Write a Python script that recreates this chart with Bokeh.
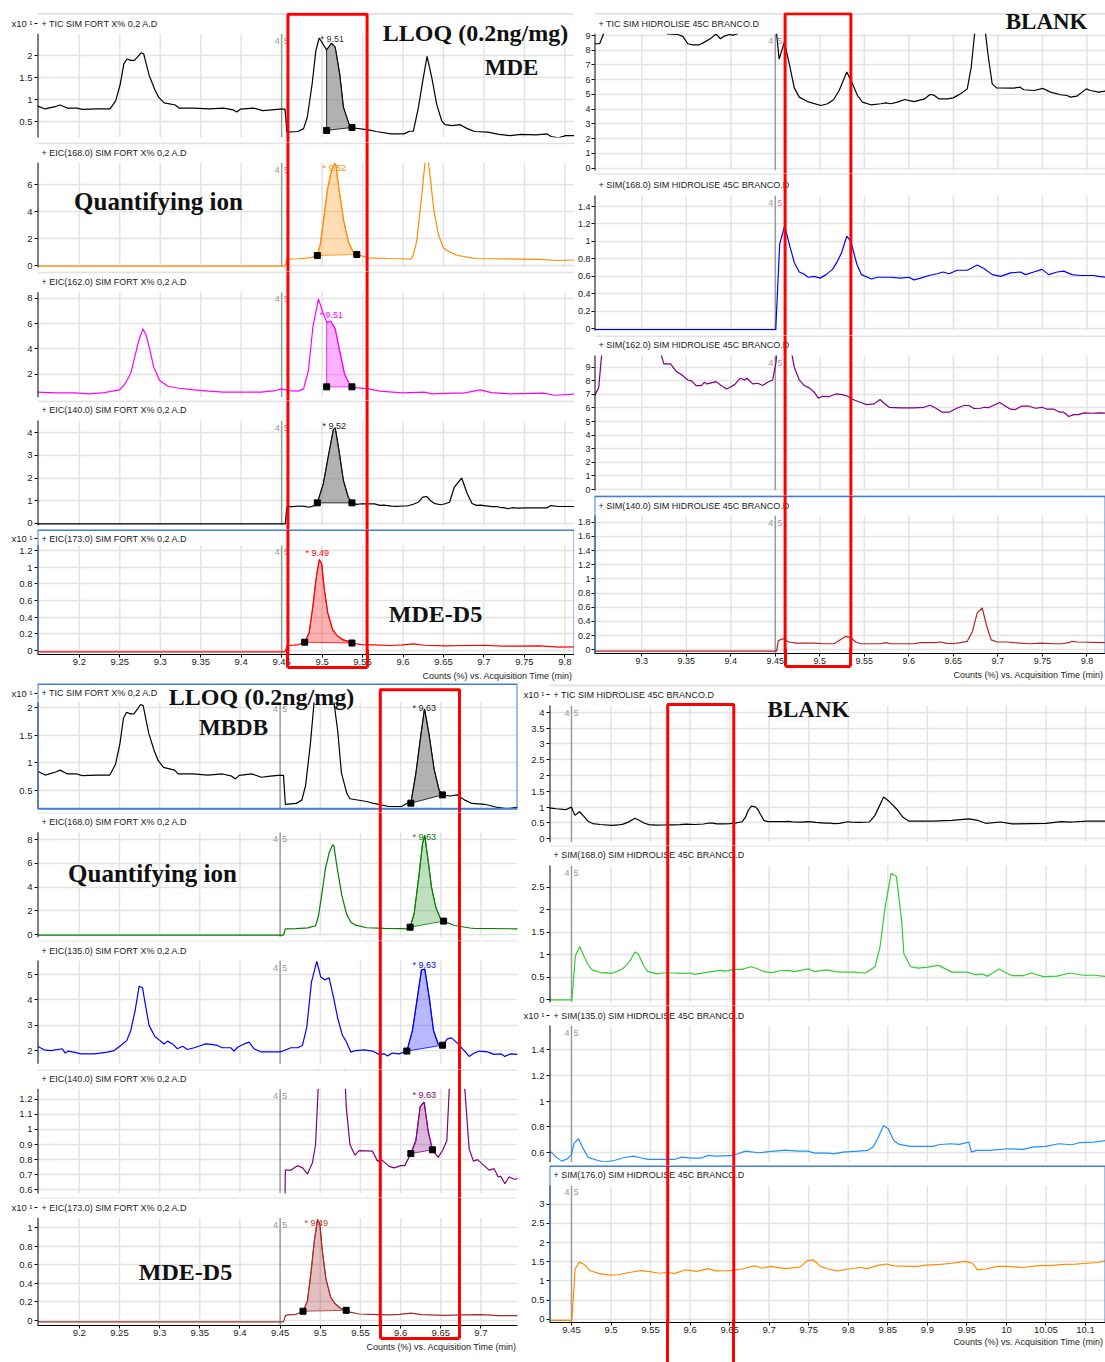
from bokeh.plotting import figure
from bokeh.models import (Range1d, FixedTicker, NumeralTickFormatter, Span, Label,
                          BoxAnnotation, LinearAxis)
from bokeh.layouts import column, row
from bokeh.embed import file_html
from bokeh.resources import INLINE

# ---------------------------------------------------------------------------
# Chromatogram traces: (acquisition time in min, counts on the panel's scale)
# ---------------------------------------------------------------------------
fort_tic = [
    (9.148, 0.85), (9.1577, 0.78), (9.1715, 0.84), (9.176, 0.87), (9.1853, 0.80), (9.197, 0.80),
    (9.2037, 0.77), (9.222, 0.78), (9.238, 0.78), (9.245, 0.97), (9.2506, 1.35), (9.255, 1.81),
    (9.2588, 1.92), (9.2634, 1.89), (9.268, 1.89), (9.2726, 1.98), (9.2763, 2.06), (9.2795, 2.04),
    (9.2827, 1.81), (9.2864, 1.54), (9.2933, 1.22), (9.2979, 1.05), (9.3048, 0.92), (9.3186, 0.87),
    (9.3232, 0.80), (9.3416, 0.80), (9.36, 0.78), (9.3783, 0.80), (9.3898, 0.76), (9.3944, 0.71),
    (9.399, 0.775), (9.4151, 0.80), (9.4266, 0.74), (9.438, 0.76), (9.4473, 0.775), (9.4542, 0.775),
    (9.4565, 0.25), (9.4702, 0.265), (9.4771, 0.33), (9.4817, 0.59), (9.4877, 1.35), (9.4923, 2.11),
    (9.4964, 2.40), (9.5056, 2.13), (9.5116, 2.28), (9.5162, 2.19), (9.5217, 1.58), (9.5263, 0.82),
    (9.5332, 0.44), (9.5369, 0.35), (9.5576, 0.30), (9.5668, 0.265), (9.5851, 0.21), (9.6012, 0.21),
    (9.6081, 0.27), (9.6127, 0.27), (9.6189, 0.80), (9.6243, 1.41), (9.6297, 1.98), (9.6355, 1.50),
    (9.6417, 0.88), (9.648, 0.50), (9.652, 0.42), (9.661, 0.40), (9.6707, 0.42), (9.6794, 0.33),
    (9.6886, 0.265), (9.7047, 0.25), (9.7184, 0.20), (9.7322, 0.17), (9.746, 0.20), (9.7644, 0.19),
    (9.7782, 0.21), (9.7828, 0.15), (9.792, 0.12), (9.8011, 0.17), (9.818, 0.17)]

fort_eic168 = [
    (9.148, -0.05), (9.4542, -0.05), (9.4565, 0.48), (9.47, 0.50), (9.4845, 0.56), (9.4941, 0.74),
    (9.4975, 1.50), (9.5008, 2.90), (9.5065, 5.60), (9.511, 6.90), (9.5155, 7.60), (9.5171, 7.45),
    (9.521, 5.60), (9.5268, 3.30), (9.5328, 1.70), (9.5383, 1.02), (9.5429, 0.82), (9.5576, 0.57),
    (9.58, 0.52), (9.6, 0.50), (9.6093, 0.48), (9.6118, 0.62), (9.6168, 1.75), (9.623, 5.10),
    (9.6272, 7.66), (9.63, 8.37), (9.6342, 6.25), (9.6384, 4.00), (9.6438, 2.30), (9.6495, 1.36),
    (9.6535, 1.13), (9.6666, 0.76), (9.6863, 0.55), (9.6915, 0.52), (9.7434, 0.48), (9.77, 0.45),
    (9.79, 0.37), (9.818, 0.42)]

fort_eic162 = [
    (9.148, 0.58), (9.1715, 0.53), (9.1945, 0.53), (9.2129, 0.45), (9.2313, 0.55), (9.2404, 0.66),
    (9.2496, 0.76), (9.2565, 1.24), (9.2634, 2.03), (9.2689, 3.47), (9.2735, 4.66), (9.2786, 5.58),
    (9.2827, 5.05), (9.2864, 4.13), (9.2919, 2.55), (9.2993, 1.50), (9.3094, 1.05), (9.3232, 0.89),
    (9.3416, 0.76), (9.3599, 0.66), (9.3783, 0.58), (9.4013, 0.58), (9.4243, 0.58), (9.4427, 0.71),
    (9.4496, 0.84), (9.4588, 0.71), (9.4703, 0.66), (9.4771, 0.84), (9.4831, 2.29), (9.4886, 5.71),
    (9.4955, 7.95), (9.5001, 7.03), (9.5056, 6.11), (9.5107, 6.18), (9.5162, 5.58), (9.5208, 4.13),
    (9.5277, 2.03), (9.5346, 1.10), (9.5369, 1.00), (9.5438, 0.92), (9.5576, 0.84), (9.5714, 0.66),
    (9.5989, 0.53), (9.6265, 0.58), (9.6357, 0.45), (9.6633, 0.50), (9.6748, 0.50), (9.6954, 0.76),
    (9.7092, 0.55), (9.7322, 0.45), (9.7736, 0.50), (9.7874, 0.34), (9.818, 0.45)]

fort_eic140 = [
    (9.148, -0.03), (9.4545, -0.03), (9.4565, 0.73), (9.4633, 0.73), (9.4716, 0.76), (9.478, 0.745),
    (9.484, 0.705), (9.4903, 0.78), (9.4941, 0.90), (9.5015, 1.74), (9.5079, 3.00), (9.5139, 4.13),
    (9.5162, 4.22), (9.5208, 3.22), (9.5263, 1.89), (9.5323, 1.15), (9.5369, 0.90), (9.543, 0.83),
    (9.5483, 0.86), (9.565, 0.856), (9.5712, 0.79), (9.5761, 0.80), (9.5857, 0.755), (9.592, 0.745),
    (9.6002, 0.76), (9.6052, 0.76), (9.6127, 0.84), (9.6189, 0.925), (9.6243, 1.15), (9.6293, 1.18),
    (9.6342, 0.99), (9.6396, 0.865), (9.6467, 0.815), (9.6521, 0.86), (9.6575, 0.925), (9.6633, 1.59),
    (9.6725, 2.00), (9.6794, 1.30), (9.6853, 0.87), (9.6907, 0.79), (9.6957, 0.80), (9.7019, 0.77),
    (9.7102, 0.73), (9.7164, 0.74), (9.7214, 0.685), (9.7247, 0.69), (9.7297, 0.64), (9.735, 0.685),
    (9.7413, 0.67), (9.755, 0.68), (9.7782, 0.68), (9.7828, 0.78), (9.792, 0.74), (9.818, 0.74)]

fort_eic173 = [
    (9.148, -0.015), (9.4542, -0.015), (9.4565, 0.05), (9.4588, 0.06), (9.47, 0.067), (9.4785, 0.10),
    (9.484, 0.21), (9.4886, 0.53), (9.4923, 0.84), (9.4965, 1.09), (9.4995, 1.04), (9.5024, 0.76),
    (9.507, 0.45), (9.513, 0.25), (9.5185, 0.18), (9.5254, 0.13), (9.5322, 0.11), (9.5369, 0.09),
    (9.5484, 0.07), (9.5622, 0.067), (9.5852, 0.06), (9.599, 0.067), (9.6128, 0.08), (9.6266, 0.063),
    (9.654, 0.055), (9.677, 0.06), (9.7, 0.063), (9.723, 0.052), (9.769, 0.055), (9.792, 0.04),
    (9.818, 0.044)]

fort_eic135 = [
    (9.148, 2.18), (9.1562, 2.04), (9.1645, 2.01), (9.179, 2.08), (9.1823, 1.91), (9.1865, 1.99),
    (9.1957, 1.93), (9.2019, 1.88), (9.2185, 1.88), (9.2351, 1.95), (9.2434, 2.01), (9.2517, 2.21),
    (9.2591, 2.40), (9.2641, 2.80), (9.2695, 3.58), (9.2745, 4.54), (9.2787, 4.48), (9.2828, 3.72),
    (9.2869, 3.00), (9.294, 2.56), (9.2994, 2.43), (9.3056, 2.27), (9.3098, 2.38), (9.316, 2.27),
    (9.3222, 2.08), (9.3284, 2.18), (9.3347, 2.05), (9.343, 2.12), (9.3512, 2.21), (9.3575, 2.27),
    (9.3637, 2.25), (9.372, 2.21), (9.3782, 2.12), (9.3886, 2.12), (9.3927, 1.99), (9.3969, 2.14),
    (9.4052, 2.27), (9.4114, 2.34), (9.4176, 2.08), (9.4259, 1.96), (9.45, 1.96), (9.455, 2.01),
    (9.4633, 2.12), (9.4716, 2.12), (9.4778, 2.21), (9.4832, 2.93), (9.489, 4.70), (9.4956, 5.52),
    (9.5006, 4.90), (9.5056, 4.79), (9.511, 4.87), (9.5164, 4.11), (9.5214, 3.32), (9.5276, 2.60),
    (9.5317, 2.40), (9.538, 1.95), (9.5442, 2.01), (9.5546, 2.04), (9.5649, 1.99), (9.5732, 1.86),
    (9.5795, 1.88), (9.5836, 1.80), (9.5898, 1.91), (9.5981, 1.88), (9.6077, 1.99), (9.6147, 2.80),
    (9.6209, 4.11), (9.6259, 5.18), (9.6301, 5.21), (9.6355, 4.11), (9.6409, 2.80), (9.6467, 2.27),
    (9.6521, 2.22), (9.6583, 2.47), (9.6633, 2.51), (9.6707, 2.30), (9.679, 2.01), (9.6853, 1.78),
    (9.6915, 1.91), (9.6977, 1.99), (9.7081, 1.96), (9.7164, 1.86), (9.7247, 1.88), (9.7297, 1.78),
    (9.7371, 1.88), (9.746, 1.86)]

# blank (hydrolysis 45C) run, TIC in counts x10^0
blank_tic = [
    (9.2469, 8.44), (9.2527, 8.44), (9.2583, 9.3), (9.27, 9.8), (9.30, 9.8), (9.3215, 9.5),
    (9.3293, 9.1), (9.3405, 9.07), (9.3461, 8.94), (9.3517, 8.44), (9.3573, 8.37), (9.3648, 8.37),
    (9.3704, 8.55), (9.3779, 8.82), (9.3835, 9.10), (9.3883, 8.78), (9.3928, 8.96), (9.3984, 9.07),
    (9.4022, 9.03), (9.407, 9.10), (9.415, 9.6), (9.4244, 9.7), (9.4311, 9.5), (9.4424, 9.2),
    (9.45, 10.0), (9.4543, 7.4), (9.4601, 8.55), (9.4657, 7.08), (9.4713, 5.45), (9.4769, 4.82),
    (9.4862, 4.52), (9.5012, 4.25), (9.5087, 4.37), (9.5154, 4.64), (9.5217, 5.27), (9.5303, 6.52),
    (9.5367, 5.72), (9.5423, 4.93), (9.5479, 4.48), (9.5572, 4.30), (9.5685, 4.37), (9.5741, 4.43),
    (9.5797, 4.37), (9.5871, 4.48), (9.5954, 4.66), (9.6058, 4.52), (9.617, 4.68), (9.6238, 5.00),
    (9.6283, 4.95), (9.6339, 4.70), (9.6432, 4.70), (9.6499, 4.77), (9.6581, 5.05), (9.6656, 5.38),
    (9.6701, 6.86), (9.6738, 9.10), (9.6775, 10.3), (9.6825, 10.1), (9.6862, 9.1), (9.6888, 7.76),
    (9.6936, 5.72), (9.6985, 5.45), (9.7179, 5.43), (9.7247, 5.50), (9.7291, 5.32), (9.7404, 5.27),
    (9.7508, 5.41), (9.759, 5.16), (9.7703, 4.98), (9.7777, 4.93), (9.7815, 4.82), (9.7889, 4.89),
    (9.7994, 5.38), (9.8039, 5.27), (9.8132, 5.16), (9.8266, 5.3), (9.8338, 7.4), (9.8447, 13.2),
    (9.8527, 11.6), (9.8608, 9.5), (9.8693, 6.8), (9.8765, 5.6), (9.9073, 5.6), (9.931, 5.8),
    (9.9524, 6.3), (9.964, 5.8), (9.9737, 4.9), (9.9927, 5.3), (10.007, 4.7), (10.05, 4.9),
    (10.069, 5.4), (10.083, 5.3), (10.102, 5.6), (10.126, 5.6)]

blank_sim168 = [
    (9.2469, -0.01), (9.4505, -0.01), (9.4549, 0.97), (9.4605, 1.18), (9.4657, 0.97), (9.4713, 0.76),
    (9.4769, 0.65), (9.4818, 0.63), (9.487, 0.59), (9.4937, 0.60), (9.5004, 0.58), (9.507, 0.62),
    (9.5143, 0.68), (9.5191, 0.76), (9.5244, 0.87), (9.5303, 1.06), (9.5348, 1.00), (9.5416, 0.74),
    (9.5468, 0.62), (9.558, 0.57), (9.5647, 0.59), (9.5797, 0.59), (9.5909, 0.58), (9.6002, 0.59),
    (9.6058, 0.56), (9.6133, 0.58), (9.6226, 0.61), (9.6319, 0.63), (9.6387, 0.65), (9.6451, 0.63),
    (9.6544, 0.67), (9.6656, 0.67), (9.6768, 0.73), (9.6843, 0.69), (9.6937, 0.62), (9.703, 0.60),
    (9.7142, 0.64), (9.7254, 0.65), (9.731, 0.62), (9.7403, 0.65), (9.7497, 0.68), (9.7571, 0.62),
    (9.7665, 0.65), (9.774, 0.66), (9.7833, 0.62), (9.7927, 0.61), (9.8076, 0.61), (9.8132, 0.60),
    (9.8219, 0.59), (9.8338, 0.73), (9.84, 1.16), (9.8466, 2.05), (9.8542, 2.81), (9.8608, 2.74),
    (9.8675, 1.76), (9.8703, 1.02), (9.8788, 0.73), (9.8883, 0.70), (9.9002, 0.72), (9.9144, 0.76),
    (9.931, 0.61), (9.95, 0.61), (9.9605, 0.55), (9.9689, 0.57), (9.9761, 0.52), (9.9903, 0.68),
    (10.007, 0.53), (10.0211, 0.53), (10.0306, 0.59), (10.0472, 0.51), (10.0638, 0.52), (10.0804, 0.59),
    (10.097, 0.54), (10.1112, 0.54), (10.126, 0.51)]

# SIM 162 of the blank, counts x10^-1
blank_sim162 = [
    (9.2469, 6.91), (9.2516, 7.48), (9.2553, 10.2), (9.28, 10.5), (9.31, 10.3), (9.3219, 9.9),
    (9.3248, 9.24), (9.3323, 9.24), (9.3386, 8.70), (9.3461, 8.38), (9.3517, 8.06), (9.3562, 7.97),
    (9.361, 7.65), (9.3669, 7.65), (9.3704, 7.89), (9.3734, 7.77), (9.3835, 7.94), (9.3891, 7.65),
    (9.3954, 7.40), (9.404, 7.70), (9.4108, 8.19), (9.4152, 8.06), (9.4182, 8.19), (9.4246, 7.77),
    (9.4302, 7.82), (9.4358, 7.65), (9.4414, 7.89), (9.447, 8.06), (9.4508, 9.36), (9.452, 10.5),
    (9.4668, 10.5), (9.4687, 9.9), (9.4713, 9.0), (9.4769, 8.06), (9.4825, 7.65), (9.4881, 7.48),
    (9.4937, 7.16), (9.4982, 6.72), (9.5031, 6.86), (9.5105, 6.84), (9.518, 7.03), (9.5254, 6.98),
    (9.5311, 6.86), (9.5386, 6.59), (9.546, 6.40), (9.5528, 6.25), (9.561, 6.30), (9.5677, 6.62),
    (9.5722, 6.35), (9.5778, 6.05), (9.5909, 6.00), (9.6058, 6.00), (9.617, 6.05), (9.6238, 6.20),
    (9.6301, 6.00), (9.6376, 5.69), (9.645, 5.69), (9.6544, 6.00), (9.6619, 6.18), (9.6675, 6.18),
    (9.6731, 5.96), (9.6806, 5.98), (9.6851, 6.05), (9.6899, 6.03), (9.7022, 6.40), (9.7067, 6.20),
    (9.7142, 5.91), (9.7198, 5.88), (9.7262, 6.13), (9.7348, 6.13), (9.7422, 5.98), (9.7497, 6.05),
    (9.7553, 5.91), (9.7628, 5.91), (9.7695, 5.69), (9.774, 5.69), (9.7796, 5.37), (9.7852, 5.51),
    (9.7908, 5.51), (9.7964, 5.64), (9.8057, 5.61), (9.8132, 5.64), (9.821, 5.62)]

blank_sim140 = [
    (9.2469, -0.02), (9.4515, -0.02), (9.4534, 0.13), (9.4582, 0.155), (9.4657, 0.11), (9.4732, 0.094),
    (9.4937, 0.094), (9.5049, 0.085), (9.516, 0.085), (9.5217, 0.13), (9.5292, 0.19), (9.5348, 0.17),
    (9.5404, 0.11), (9.546, 0.085), (9.5685, 0.085), (9.5741, 0.10), (9.5797, 0.085), (9.6058, 0.085),
    (9.6133, 0.10), (9.6283, 0.10), (9.6357, 0.11), (9.6413, 0.095), (9.6488, 0.085), (9.6581, 0.10),
    (9.6656, 0.12), (9.6712, 0.25), (9.6768, 0.52), (9.6824, 0.59), (9.6873, 0.34), (9.6925, 0.14),
    (9.6992, 0.11), (9.7104, 0.11), (9.7179, 0.10), (9.7366, 0.085), (9.7478, 0.095), (9.7628, 0.085),
    (9.7721, 0.085), (9.7796, 0.10), (9.7833, 0.12), (9.789, 0.11), (9.821, 0.10)]

blank_sim135 = [
    (9.4222, 0.60), (9.4244, 0.603), (9.4306, 0.564), (9.4377, 0.533), (9.4448, 0.551), (9.45, 0.585),
    (9.4533, 0.673), (9.459, 0.707), (9.4637, 0.642), (9.4709, 0.564), (9.4804, 0.544), (9.4908, 0.526),
    (9.5041, 0.538), (9.516, 0.559), (9.5278, 0.572), (9.5373, 0.559), (9.5468, 0.546), (9.5658, 0.546),
    (9.58, 0.546), (9.5895, 0.564), (9.6014, 0.556), (9.6133, 0.556), (9.6227, 0.577), (9.6322, 0.572),
    (9.6512, 0.575), (9.6606, 0.59), (9.6701, 0.611), (9.6867, 0.598), (9.7033, 0.608), (9.7199, 0.619),
    (9.7365, 0.611), (9.7484, 0.611), (9.7579, 0.595), (9.7745, 0.595), (9.7816, 0.59), (9.7935, 0.603),
    (9.8125, 0.611), (9.8243, 0.616), (9.8314, 0.642), (9.8371, 0.707), (9.8447, 0.81), (9.8504, 0.784),
    (9.8575, 0.694), (9.8646, 0.663), (9.8788, 0.647), (9.9073, 0.647), (9.9144, 0.66), (9.9286, 0.668),
    (9.9405, 0.663), (9.9524, 0.681), (9.9557, 0.603), (9.9619, 0.616), (9.9785, 0.616), (10.0022, 0.629),
    (10.0212, 0.624), (10.033, 0.642), (10.0496, 0.647), (10.0662, 0.668), (10.0828, 0.66), (10.0923, 0.676),
    (10.1112, 0.681), (10.126, 0.694)]

blank_sim176 = [
    (9.4222, -0.03), (9.4505, -0.03), (9.4547, 1.31), (9.46, 1.49), (9.4652, 1.44), (9.4732, 1.27),
    (9.4851, 1.19), (9.4993, 1.15), (9.5088, 1.16), (9.523, 1.22), (9.5373, 1.27), (9.5491, 1.24),
    (9.561, 1.20), (9.5729, 1.22), (9.58, 1.19), (9.5942, 1.29), (9.6085, 1.25), (9.6227, 1.32),
    (9.6322, 1.26), (9.6512, 1.27), (9.6654, 1.31), (9.682, 1.39), (9.6915, 1.33), (9.701, 1.38),
    (9.72, 1.32), (9.7389, 1.36), (9.7484, 1.53), (9.7555, 1.55), (9.765, 1.38), (9.7745, 1.31),
    (9.7863, 1.26), (9.8006, 1.31), (9.8148, 1.35), (9.8243, 1.32), (9.8385, 1.41), (9.848, 1.44),
    (9.8575, 1.39), (9.8788, 1.38), (9.8883, 1.38), (9.8978, 1.41), (9.9168, 1.43), (9.931, 1.46),
    (9.9405, 1.49), (9.9476, 1.51), (9.9571, 1.46), (9.9633, 1.29), (9.9737, 1.31), (9.9879, 1.38),
    (10.0022, 1.38), (10.0212, 1.35), (10.0401, 1.40), (10.0543, 1.40), (10.0733, 1.43), (10.0875, 1.44),
    (10.1017, 1.46), (10.116, 1.48), (10.126, 1.53)]

# the blank TIC shown again on the x10^1 scale
blank_tic_x10 = [(t, c / 10.0) for t, c in blank_tic]

# x-axis tick labels (min)
xticks_tl = [9.2, 9.25, 9.3, 9.35, 9.4, 9.45, 9.5, 9.55, 9.6, 9.65, 9.7, 9.75, 9.8]
xticks_tr = [9.3, 9.35, 9.4, 9.45, 9.5, 9.55, 9.6, 9.65, 9.7, 9.75, 9.8]
xticks_bl = [9.2, 9.25, 9.3, 9.35, 9.4, 9.45, 9.5, 9.55, 9.6, 9.65, 9.7]
xticks_br = [9.45, 9.5, 9.55, 9.6, 9.65, 9.7, 9.75, 9.8, 9.85, 9.9, 9.95, 10, 10.05, 10.1]

SEGMENT_SWITCH = 9.45          # time where acquisition segment 4 ends and 5 begins
SANS = "Liberation Sans"
SERIF = "Liberation Serif"
GRID = "#e3e3e3"
FRAME_BLUE = "#3f7fd8"
AXIS_NOTE = "Counts (%) vs. Acquisition Time (min)"
X10 = "x10 \u00b9"
FORT = "SIM FORT X% 0,2 A.D"
BRANCO = "SIM HIDROLISE 45C BRANCO.D"

# ---------------------------------------------------------------------------
# Page geometry of the four panel stacks (pixel positions on the page)
# ---------------------------------------------------------------------------
TL = dict(page_left=0, width=574, frame_left=37, border_right=0, x0=9.1483, kx=809.2,
          xticks=xticks_tl, tick_size="9.5px", rect=((9.4578, 9.5556), (13.7, 673.0)),
          note_x=497, note_first=False, red_in=18, red_out=0, red_line=True)
TR = dict(page_left=574, width=531, frame_left=19, border_right=0, x0=9.2469, kx=892.0,
          xticks=xticks_tr, tick_size="9px", rect=((9.461, 9.5349), (13.3, 671.7)),
          note_x=1028, note_first=False, red_in=18, red_out=0, red_line=True)
BL = dict(page_left=0, width=520, frame_left=37, border_right=3, x0=9.148, kx=803.4,
          xticks=xticks_bl, tick_size="9.5px", rect=((9.5747, 9.6733), (689.3, 1348.3)),
          note_x=441, note_first=False, red_in=18, red_out=0, red_line=True)
BR = dict(page_left=520, width=585, frame_left=29, border_right=0, x0=9.4222, kx=790.8,
          xticks=xticks_br, tick_size="9.5px", rect=((9.5717, 9.6552), (704.0, 1400.0)),
          note_x=1028, note_first=True, red_in=30, red_out=13, red_line=False)

GRAY_FILL = "#7d7d7d"


def steps(a, b, n):
    return [round(a + (b - a) * i / n, 3) for i in range(n + 1)]


tl_panels = [
    dict(title="+ TIC " + FORT, frame=(12, 142), border_top=12, plot=(33.3, 137.0), title_y=23.3,
         sep=13.3, ref=(2, 55.0, 0.5, 120.7), yticks=[0.5, 1, 1.5, 2], x10=True,
         trace=fort_tic, color="#000000",
         integ=dict(t=(9.5056, 9.5369), base=(0.29, 0.356), fill=GRAY_FILL, alpha=0.6,
                    text="* 9.51", at=(320, 38), tcolor="#333333"),
         notes=[("LLOQ (0.2ng/mg)", 475, 32, 24), ("MDE", 511, 67, 23)]),
    dict(title="+ EIC(168.0) " + FORT, frame=(142, 271), plot=(162.3, 266.7), title_y=152.3,
         sep=142.7, ref=(6, 184.3, 0, 265.0), yticks=[0, 2, 4, 6],
         trace=fort_eic168, color="#ff8c00",
         integ=dict(t=(9.4941, 9.5429), base=(0.74, 0.82), fill="#ff8c00", alpha=0.3,
                    text="* 9.52", at=(322, 167), tcolor="#ff8c00"),
         notes=[("Quantifying ion", 158, 201, 25)]),
    dict(title="+ EIC(162.0) " + FORT, frame=(271, 400), plot=(291.7, 396.7), title_y=281.0,
         sep=271.7, ref=(8, 297.7, 2, 373.7), yticks=[2, 4, 6, 8],
         trace=fort_eic162, color="#ff00ff",
         integ=dict(t=(9.5056, 9.5369), base=(1.0, 1.0), fill="#ff00ff", alpha=0.3,
                    text="* 9.51", at=(319, 314), tcolor="#ff00ff")),
    dict(title="+ EIC(140.0) " + FORT, frame=(400, 529), plot=(420.0, 525.0), title_y=409.3,
         sep=400.7, ref=(4, 432.3, 0, 522.7), yticks=[0, 1, 2, 3, 4],
         trace=fort_eic140, color="#000000",
         integ=dict(t=(9.4941, 9.5369), base=(0.9, 0.9), fill=GRAY_FILL, alpha=0.6,
                    text="* 9.52", at=(322, 425), tcolor="#222222")),
    dict(title="+ EIC(173.0) " + FORT, frame=(529, 655), border_bottom=28, plot=(545.0, 655.0),
         title_y=538.3, box=(529.5, 656.5), ref=(1.2, 550.0, 0, 651.0),
         yticks=[0, 0.2, 0.4, 0.6, 0.8, 1, 1.2], x10=True, xaxis=True,
         trace=fort_eic173, color="#ff0000",
         integ=dict(t=(9.4785, 9.5369), base=(0.10, 0.09), fill="#ff0000", alpha=0.3,
                    text="* 9.49", at=(305, 553), tcolor="#ff0000"),
         notes=[("MDE-D5", 435, 614, 24)]),
]

tr_panels = [
    dict(title="+ TIC " + BRANCO, frame=(12, 173), border_top=12, plot=(33.3, 170.0), title_y=23.3,
         sep=13.3, ref=(9, 35.0, 0, 167.7), yticks=list(range(10)),
         trace=blank_tic, color="#000000", notes=[("BLANK", 1046, 21, 23)]),
    dict(title="+ SIM(168.0) " + BRANCO, frame=(173, 335), plot=(195.0, 330.0), title_y=184.0,
         sep=173.3, ref=(1.4, 206.0, 0, 328.3), yticks=steps(0, 1.4, 7),
         trace=blank_sim168, color="#0000ff"),
    dict(title="+ SIM(162.0) " + BRANCO, frame=(335, 495), plot=(355.0, 490.0), title_y=344.3,
         sep=335.5, ref=(9, 366.7, 0, 489.0), yticks=list(range(10)),
         trace=blank_sim162, color="#800080"),
    dict(title="+ SIM(140.0) " + BRANCO, frame=(495, 653), border_bottom=30, plot=(515.0, 653.0),
         title_y=505.0, box=(495.7, 654.5), ref=(1.8, 521.7, 0, 649.3), yticks=steps(0, 1.8, 9),
         xaxis=True, trace=blank_sim140, color="#b22222"),
]

bl_panels = [
    dict(title="+ TIC " + FORT, frame=(683, 812), plot=(701.7, 808.3), title_y=692.7,
         box=(683.5, 808.3), ref=(2, 707.3, 0.5, 790.0), yticks=[0.5, 1, 1.5, 2], x10=True,
         trace=fort_tic, color="#000000",
         integ=dict(t=(9.6127, 9.652), base=(0.27, 0.42), fill=GRAY_FILL, alpha=0.6,
                    text="* 9.63", at=(412, 707), tcolor="#222222"),
         notes=[("LLOQ (0.2ng/mg)", 261, 696, 24), ("MBDB", 233, 727, 23)]),
    dict(title="+ EIC(168.0) " + FORT, frame=(812, 940), plot=(831.7, 936.7), title_y=821.0,
         sep=812.0, ref=(8, 839.3, 0, 934.0), yticks=[0, 2, 4, 6, 8],
         trace=fort_eic168, color="#008000",
         integ=dict(t=(9.6118, 9.6535), base=(0.62, 1.13), fill="#008000", alpha=0.25,
                    text="* 9.63", at=(412, 836), tcolor="#008000"),
         notes=[("Quantifying ion", 152, 873, 25)]),
    dict(title="+ EIC(135.0) " + FORT, frame=(940, 1069), plot=(960.0, 1063.3), title_y=950.0,
         sep=940.0, ref=(5, 974.0, 2, 1050.3), yticks=[2, 3, 4, 5],
         trace=fort_eic135, color="#0000ff",
         integ=dict(t=(9.6077, 9.6521), base=(1.99, 2.22), fill="#0000ff", alpha=0.28,
                    text="* 9.63", at=(412, 964), tcolor="#0000ff")),
    dict(title="+ EIC(140.0) " + FORT, frame=(1069, 1197), plot=(1088.3, 1193.0), title_y=1078.3,
         sep=1069.3, ref=(1.2, 1098.7, 0.6, 1189.3), yticks=steps(0.6, 1.2, 6),
         trace=fort_eic140, color="#800080",
         integ=dict(t=(9.6127, 9.6396), base=(0.84, 0.865), fill="#800080", alpha=0.28,
                    text="* 9.63", at=(412, 1094), tcolor="#800080")),
    dict(title="+ EIC(173.0) " + FORT, frame=(1197, 1325), border_bottom=37, plot=(1217.3, 1325.0),
         title_y=1207.3, sep=1197.0, ref=(1, 1227.3, 0, 1320.0), yticks=steps(0, 1, 5),
         x10=True, xaxis=True, trace=fort_eic173, color="#a52a2a",
         integ=dict(t=(9.4785, 9.5322), base=(0.10, 0.11), fill="#a52a2a", alpha=0.3,
                    text="* 9.49", at=(304, 1222), tcolor="#c0392b"),
         notes=[("MDE-D5", 185, 1271, 24)]),
]

br_panels = [
    dict(title="+ TIC " + BRANCO, frame=(683, 845), plot=(705.0, 841.7), title_y=694.0,
         sep=685.0, ref=(4, 711.7, 0, 838.3), yticks=steps(0, 4, 8), x10=True,
         trace=blank_tic_x10, color="#000000", notes=[("BLANK", 808, 709, 23)]),
    dict(title="+ SIM(168.0) " + BRANCO, frame=(845, 1005), plot=(865.0, 1001.7), title_y=854.3,
         sep=845.0, ref=(2.5, 886.7, 0, 999.0), yticks=steps(0, 2.5, 5),
         trace=blank_sim168, color="#33cc33"),
    dict(title="+ SIM(135.0) " + BRANCO, frame=(1005, 1165), plot=(1025.0, 1161.7), title_y=1015.0,
         sep=1005.0, ref=(1.4, 1049.0, 0.6, 1152.0), yticks=steps(0.6, 1.4, 4), x10=True,
         trace=blank_sim135, color="#1e90ff"),
    dict(title="+ SIM(176.0) " + BRANCO, frame=(1165, 1323), border_bottom=39, plot=(1185.0, 1323.0),
         title_y=1175.0, box=(1165.5, 1324.5), ref=(3, 1204.0, 0, 1319.7), yticks=steps(0, 3, 6),
         xaxis=True, trace=blank_sim176, color="#ff8c00"),
]


def style_axis(ax, size, standoff=2):
    ax.axis_line_color = "black"
    ax.axis_line_width = 1
    ax.major_tick_line_color = "black"
    ax.major_tick_out = 3
    ax.major_tick_in = 0
    ax.minor_tick_line_color = None
    ax.major_label_text_font = SANS
    ax.major_label_text_font_size = size
    ax.major_label_text_color = "#222222"
    ax.major_label_standoff = standoff


def make_panel(g, s):
    top, bot = s["frame"]
    bt = s.get("border_top", 0)
    bb = s.get("border_bottom", 0)
    v1, p1, v2, p2 = s["ref"]
    k = (p2 - p1) / (v1 - v2)

    def yv(py):
        return v1 + (p1 - py) / k

    def xv(px):
        return g["x0"] + (px - g["page_left"] - g["frame_left"]) / g["kx"]

    x_start = g["x0"]
    frame_w = g["width"] - g["frame_left"] - g["border_right"]
    x_end = x_start + frame_w / g["kx"]
    has_x = s.get("xaxis", False)
    p = figure(width=g["width"], height=int(bt + (bot - top) + bb),
               x_range=Range1d(x_start, x_end), y_range=Range1d(yv(bot), yv(top)),
               x_axis_location="below" if has_x else None, title=None,
               output_backend="svg", toolbar_location=None,
               min_border_left=g["frame_left"], min_border_right=g["border_right"],
               min_border_top=bt, min_border_bottom=bb)
    p.outline_line_color = None
    p.background_fill_color = "white"
    p.border_fill_color = "white"
    p.xgrid.grid_line_color = None
    p.ygrid.grid_line_color = GRID
    p.ygrid.grid_line_width = 1.5
    p.ygrid.ticker = FixedTicker(ticks=s["yticks"])

    y_lo, y_hi = yv(s["plot"][1]), yv(s["plot"][0])

    # y axis; the exponent marker sits on the header row as an extra tick label
    yticks = list(s["yticks"])
    overrides = {}
    upper = y_hi
    if s.get("x10"):
        tv = round(yv(s["title_y"]), 4)
        yticks.append(tv)
        overrides[tv] = X10
        upper = max(upper, tv)
    yax = p.yaxis[0]
    yax.ticker = FixedTicker(ticks=yticks)
    yax.formatter = NumeralTickFormatter(format="0.[0]")
    yax.major_label_overrides = overrides
    yax.bounds = (y_lo, upper)
    style_axis(yax, g["tick_size"], 1 if g is TR else 2)
    yax.axis_line_color = None

    if has_x:
        xax = p.xaxis[0]
        xax.ticker = FixedTicker(ticks=g["xticks"])
        xax.formatter = NumeralTickFormatter(format="0.[00]")
        style_axis(xax, g["tick_size"], 1)

        # continuation of the red window through the axis area (minor ticks, no labels)
        (rx0, rx1), _ = g["rect"]
        red = LinearAxis(ticker=FixedTicker(ticks=[], minor_ticks=[rx0, rx1]),
                         bounds=(rx0, rx1),
                         axis_line_color="#ff0000" if g["red_line"] else None,
                         axis_line_width=3, major_tick_line_color=None,
                         major_tick_in=0, major_tick_out=0,
                         minor_tick_line_color="#ff0000", minor_tick_line_width=3,
                         minor_tick_in=g["red_in"], minor_tick_out=g["red_out"],
                         major_label_standoff=0)
        nx = round(xv(g["note_x"]), 4)
        note = LinearAxis(ticker=FixedTicker(ticks=[nx]), axis_line_color=None,
                          major_tick_line_color=None, major_tick_out=0, major_tick_in=0,
                          minor_tick_line_color=None, major_label_overrides={nx: AXIS_NOTE},
                          major_label_standoff=3 if not g["note_first"] else 1,
                          major_label_text_font=SANS, major_label_text_font_size="9px",
                          major_label_text_color="#222222")
        if g["note_first"]:
            p.add_layout(note, "below")
            p.add_layout(red, "below")
        else:
            p.add_layout(red, "below")
            p.add_layout(note, "below")

    # vertical grid lines limited to the plotting area
    gx = [t for t in g["xticks"] if t != SEGMENT_SWITCH]
    p.segment(x0=gx, x1=gx, y0=[y_lo] * len(gx), y1=[y_hi] * len(gx),
              line_color=GRID, line_width=1.5)

    # acquisition segment boundary 4|5
    p.segment(x0=[SEGMENT_SWITCH], x1=[SEGMENT_SWITCH], y0=[y_lo], y1=[y_hi],
              line_color="#9a9a9a", line_width=1.5)

    # trace
    ts = [t for t, _ in s["trace"]]
    cs = [c for _, c in s["trace"]]
    p.line(ts, cs, line_color=s["color"], line_width=1.2)

    # integrated peak
    if "integ" in s:
        it = s["integ"]
        t0, t1 = it["t"]
        b0, b1 = it["base"]
        inside = [(t, c) for t, c in s["trace"] if t0 - 1e-6 <= t <= t1 + 1e-6]
        px_ = [t0] + [t for t, _ in inside] + [t1]
        py_ = [b0] + [c for _, c in inside] + [b1]
        p.patch(px_, py_, fill_color=it["fill"], fill_alpha=it["alpha"],
                line_color=s["color"], line_width=1, line_alpha=0.8)
        p.scatter([t0, t1], [b0, b1], marker="square", size=6, color="black")

    # keep the header row and the margin below the plot clear of the traces
    p.quad(left=[x_start], right=[x_end], bottom=[y_hi], top=[yv(top)],
           fill_color="white", line_color=None)
    if y_lo > yv(bot) + 1e-9:
        p.quad(left=[x_start], right=[x_end], bottom=[yv(bot)], top=[y_lo],
               fill_color="white", line_color=None)

    # y axis line over the plotting area only
    p.segment(x0=[x_start], x1=[x_start], y0=[y_lo], y1=[y_hi], line_color="black",
              line_width=2)

    seg_px = g["page_left"] + g["frame_left"] + (SEGMENT_SWITCH - x_start) * g["kx"]
    label_y = yv(s["plot"][0] + 7)
    p.add_layout(Label(x=xv(seg_px - 2), y=label_y, text="4", text_align="right",
                       text_baseline="middle", text_font=SANS, text_font_size="9px",
                       text_color="#999999"))
    p.add_layout(Label(x=xv(seg_px + 2), y=label_y, text="5", text_align="left",
                       text_baseline="middle", text_font=SANS, text_font_size="9px",
                       text_color="#999999"))

    if "integ" in s:
        it = s["integ"]
        lx, ly = it["at"]
        p.add_layout(Label(x=xv(lx), y=yv(ly), text=it["text"], text_font=SANS,
                           text_font_size="9px", text_color=it["tcolor"],
                           text_baseline="middle"))

    # panel header
    if "sep" in s:
        p.add_layout(Span(location=yv(s["sep"]), dimension="width",
                          line_color="#e2e2e2", line_width=2))
    p.add_layout(Label(x=xv(g["page_left"] + g["frame_left"] + 4), y=yv(s["title_y"]),
                       text=s["title"], text_font=SANS, text_font_size="9px",
                       text_color="#222222", text_baseline="middle"))
    if "box" in s:
        b_top, b_bot = s["box"]
        p.add_layout(BoxAnnotation(top=yv(b_top), bottom=yv(b_bot), fill_color=None,
                                   fill_alpha=0, line_color=FRAME_BLUE, line_alpha=1,
                                   line_width=2))

    # large annotations
    for text, cx, cy, size in s.get("notes", []):
        p.add_layout(Label(x=xv(cx), y=yv(cy), text=text, text_font=SERIF,
                           text_font_style="bold", text_font_size=f"{size}px",
                           text_color="#111111", text_align="center",
                           text_baseline="middle"))

    # red highlight window
    (rx0, rx1), (ry0, ry1) = g["rect"]
    p.add_layout(BoxAnnotation(left=rx0, right=rx1, top=yv(ry0), bottom=yv(ry1),
                               fill_color=None, fill_alpha=0, line_color="#ff0000",
                               line_alpha=1, line_width=3))
    return p


def stack(g, panels):
    return column(*[make_panel(g, s) for s in panels], spacing=0)


layout = column(
    row(stack(TL, tl_panels), stack(TR, tr_panels), spacing=0),
    row(stack(BL, bl_panels), stack(BR, br_panels), spacing=0),
    spacing=0)

open("out.html", "w").write(file_html(layout, INLINE))
